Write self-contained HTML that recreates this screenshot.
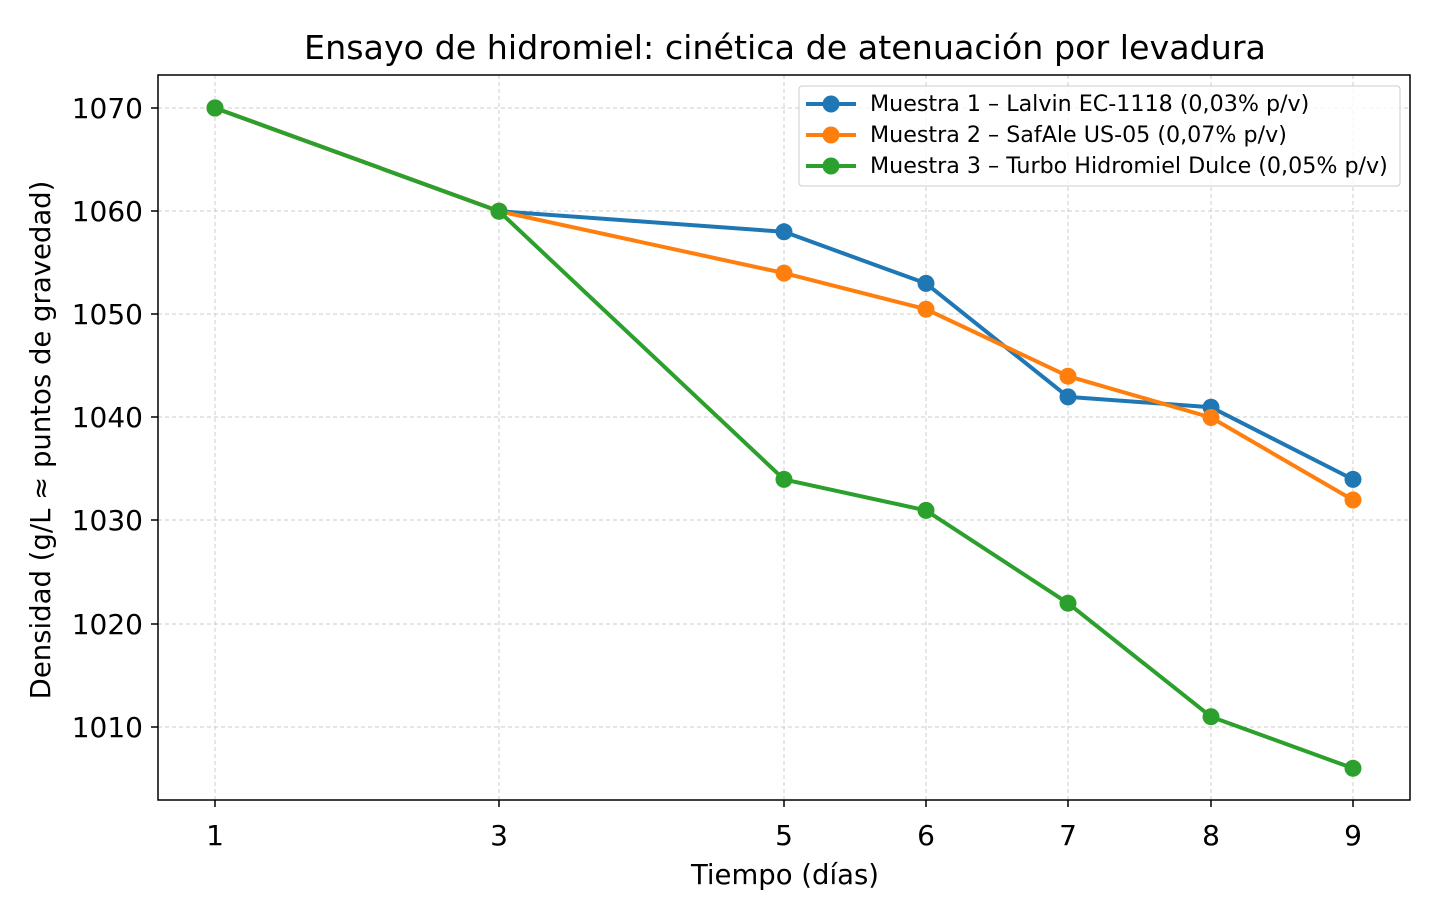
<!DOCTYPE html>
<html><head><meta charset="utf-8"><style>body{margin:0;background:#fff}svg{display:block}text{font-family:"DejaVu Sans","Liberation Sans",sans-serif;fill:#000}</style></head>
<body>
<svg width="1440" height="919" viewBox="0 0 1440 919" xmlns="http://www.w3.org/2000/svg">
<rect width="1440" height="919" fill="#fff"/>
<g stroke="#cccccc" stroke-width="1" stroke-dasharray="4,3">
<line x1="215" y1="75" x2="215" y2="800"/><line x1="499" y1="75" x2="499" y2="800"/><line x1="784" y1="75" x2="784" y2="800"/><line x1="926" y1="75" x2="926" y2="800"/><line x1="1068" y1="75" x2="1068" y2="800"/><line x1="1211" y1="75" x2="1211" y2="800"/><line x1="1353" y1="75" x2="1353" y2="800"/>
<line x1="158" y1="108" x2="1410" y2="108"/><line x1="158" y1="211" x2="1410" y2="211"/><line x1="158" y1="314" x2="1410" y2="314"/><line x1="158" y1="417" x2="1410" y2="417"/><line x1="158" y1="520" x2="1410" y2="520"/><line x1="158" y1="624" x2="1410" y2="624"/><line x1="158" y1="727" x2="1410" y2="727"/>
</g>
<g fill="none" stroke-width="4" stroke-linejoin="round">
<polyline stroke="#1f77b4" points="215,108 499,211.2 784,231.8 926,283.4 1068,396.9 1211,407.2 1353,479.4"/>
<polyline stroke="#ff7f0e" points="215,108 499,211.2 784,273.1 926,309.2 1068,376.2 1211,417.5 1353,500"/>
<polyline stroke="#2ca02c" points="215,108 499,211.2 784,479.4 926,510.4 1068,603.2 1211,716.7 1353,768.3"/>
</g>
<g fill="#1f77b4"><circle cx="215" cy="108" r="8.5"/><circle cx="499" cy="211.2" r="8.5"/><circle cx="784" cy="231.8" r="8.5"/><circle cx="926" cy="283.4" r="8.5"/><circle cx="1068" cy="396.9" r="8.5"/><circle cx="1211" cy="407.2" r="8.5"/><circle cx="1353" cy="479.4" r="8.5"/></g>
<g fill="#ff7f0e"><circle cx="215" cy="108" r="8.5"/><circle cx="499" cy="211.2" r="8.5"/><circle cx="784" cy="273.1" r="8.5"/><circle cx="926" cy="309.2" r="8.5"/><circle cx="1068" cy="376.2" r="8.5"/><circle cx="1211" cy="417.5" r="8.5"/><circle cx="1353" cy="500" r="8.5"/></g>
<g fill="#2ca02c"><circle cx="215" cy="108" r="8.5"/><circle cx="499" cy="211.2" r="8.5"/><circle cx="784" cy="479.4" r="8.5"/><circle cx="926" cy="510.4" r="8.5"/><circle cx="1068" cy="603.2" r="8.5"/><circle cx="1211" cy="716.7" r="8.5"/><circle cx="1353" cy="768.3" r="8.5"/></g>
<rect x="158" y="75" width="1252" height="725" fill="none" stroke="#000" stroke-width="1.5"/>
<g stroke="#000" stroke-width="1.5">
<line x1="215" y1="800" x2="215" y2="807"/><line x1="499" y1="800" x2="499" y2="807"/><line x1="784" y1="800" x2="784" y2="807"/><line x1="926" y1="800" x2="926" y2="807"/><line x1="1068" y1="800" x2="1068" y2="807"/><line x1="1211" y1="800" x2="1211" y2="807"/><line x1="1353" y1="800" x2="1353" y2="807"/>
<line x1="151" y1="108" x2="158" y2="108"/><line x1="151" y1="211" x2="158" y2="211"/><line x1="151" y1="314" x2="158" y2="314"/><line x1="151" y1="417" x2="158" y2="417"/><line x1="151" y1="520" x2="158" y2="520"/><line x1="151" y1="624" x2="158" y2="624"/><line x1="151" y1="727" x2="158" y2="727"/>
</g>
<g font-size="28" text-anchor="middle">
<text x="215" y="845">1</text><text x="499" y="845">3</text><text x="784" y="845">5</text><text x="926" y="845">6</text><text x="1068" y="845">7</text><text x="1211" y="845">8</text><text x="1353" y="845">9</text>
</g>
<g font-size="28" text-anchor="end">
<text x="143" y="118">1070</text><text x="143" y="221">1060</text><text x="143" y="324">1050</text><text x="143" y="427">1040</text><text x="143" y="530">1030</text><text x="143" y="634">1020</text><text x="143" y="737">1010</text>
</g>
<text x="785" y="884" font-size="27.5" text-anchor="middle">Tiempo (días)</text>
<text transform="translate(50,440) rotate(-90)" font-size="27.5" text-anchor="middle">Densidad (g/L ≈ puntos de gravedad)</text>
<text x="785" y="59" font-size="33.3" text-anchor="middle">Ensayo de hidromiel: cinética de atenuación por levadura</text>
<rect x="799" y="86" width="601" height="100" rx="3" fill="#fff" fill-opacity="0.8" stroke="#ccc" stroke-width="1"/>
<g stroke-width="4"><line x1="806" y1="104" x2="856" y2="104" stroke="#1f77b4"/><line x1="806" y1="135" x2="856" y2="135" stroke="#ff7f0e"/><line x1="806" y1="166" x2="856" y2="166" stroke="#2ca02c"/></g>
<circle cx="831" cy="104" r="8.5" fill="#1f77b4"/><circle cx="831" cy="135" r="8.5" fill="#ff7f0e"/><circle cx="831" cy="166" r="8.5" fill="#2ca02c"/>
<g font-size="22.2"><text x="870" y="111">Muestra 1 – Lalvin EC-1118 (0,03% p/v)</text><text x="870" y="142">Muestra 2 – SafAle US-05 (0,07% p/v)</text><text x="870" y="173">Muestra 3 – Turbo Hidromiel Dulce (0,05% p/v)</text></g>
</svg>
</body></html>
